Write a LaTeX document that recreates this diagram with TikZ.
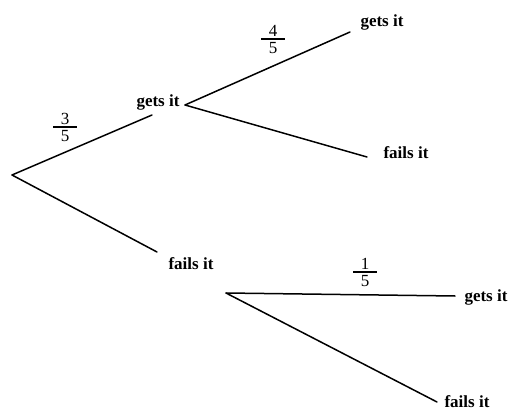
\documentclass[tikz,border=0pt]{standalone}
\usepackage{fontspec}
\setmainfont{Liberation Serif}
\begin{document}
\begin{tikzpicture}[x=1pt,y=-1pt,
  branch/.style={line width=1.5pt,line cap=round},
  lbl/.style={font=\fontsize{17}{19}\selectfont\bfseries,inner sep=0pt},
  dig/.style={font=\fontsize{17}{19}\selectfont,inner sep=0pt},
  fbar/.style={line width=1.3pt}]
\useasboundingbox (0,0) rectangle (509,412);
% vertices and branch ends
\coordinate (r) at (12,175);
\coordinate (a1) at (152,115);
\coordinate (a2) at (157,252);
\coordinate (v2) at (185,105);
\coordinate (b1) at (350,32);
\coordinate (b2) at (367,157);
\coordinate (v3) at (226,293);
\coordinate (c1) at (455,296);
\coordinate (c2) at (437,402);
% labels
\node[lbl] (g1) at (158,102) {gets it};
\node[lbl] (f1) at (191,264) {fails it};
\node[lbl] (g2) at (382,22) {gets it};
\node[lbl] (f2) at (406,153) {fails it};
\node[lbl] (g3) at (486,297) {gets it};
\node[lbl] (f3) at (467,402) {fails it};
% branches
\draw[branch] (r) -- (a1);
\draw[branch] (r) -- (a2);
\draw[branch] (v2) -- (b1);
\draw[branch] (v2) -- (b2);
\draw[branch] (v3) -- (c1);
\draw[branch] (v3) -- (c2);
% fractions
\coordinate (p1) at (65,127);
\node[dig,anchor=south] (n1) at ([yshift=2pt]p1) {3};
\node[dig,anchor=north] (d1) at ([yshift=-3pt]p1) {5};
\draw[fbar] ([xshift=-12pt]p1) coordinate (p1l) -- ([xshift=12pt]p1) coordinate (p1r);
\coordinate (p2) at (273,39);
\node[dig,anchor=south] (n2) at ([yshift=2pt]p2) {4};
\node[dig,anchor=north] (d2) at ([yshift=-3pt]p2) {5};
\draw[fbar] ([xshift=-12pt]p2) coordinate (p2l) -- ([xshift=12pt]p2) coordinate (p2r);
\coordinate (p3) at (365,272);
\node[dig,anchor=south] (n3) at ([yshift=2pt]p3) {1};
\node[dig,anchor=north] (d3) at ([yshift=-3pt]p3) {5};
\draw[fbar] ([xshift=-12pt]p3) coordinate (p3l) -- ([xshift=12pt]p3) coordinate (p3r);
\end{tikzpicture}
\end{document}
